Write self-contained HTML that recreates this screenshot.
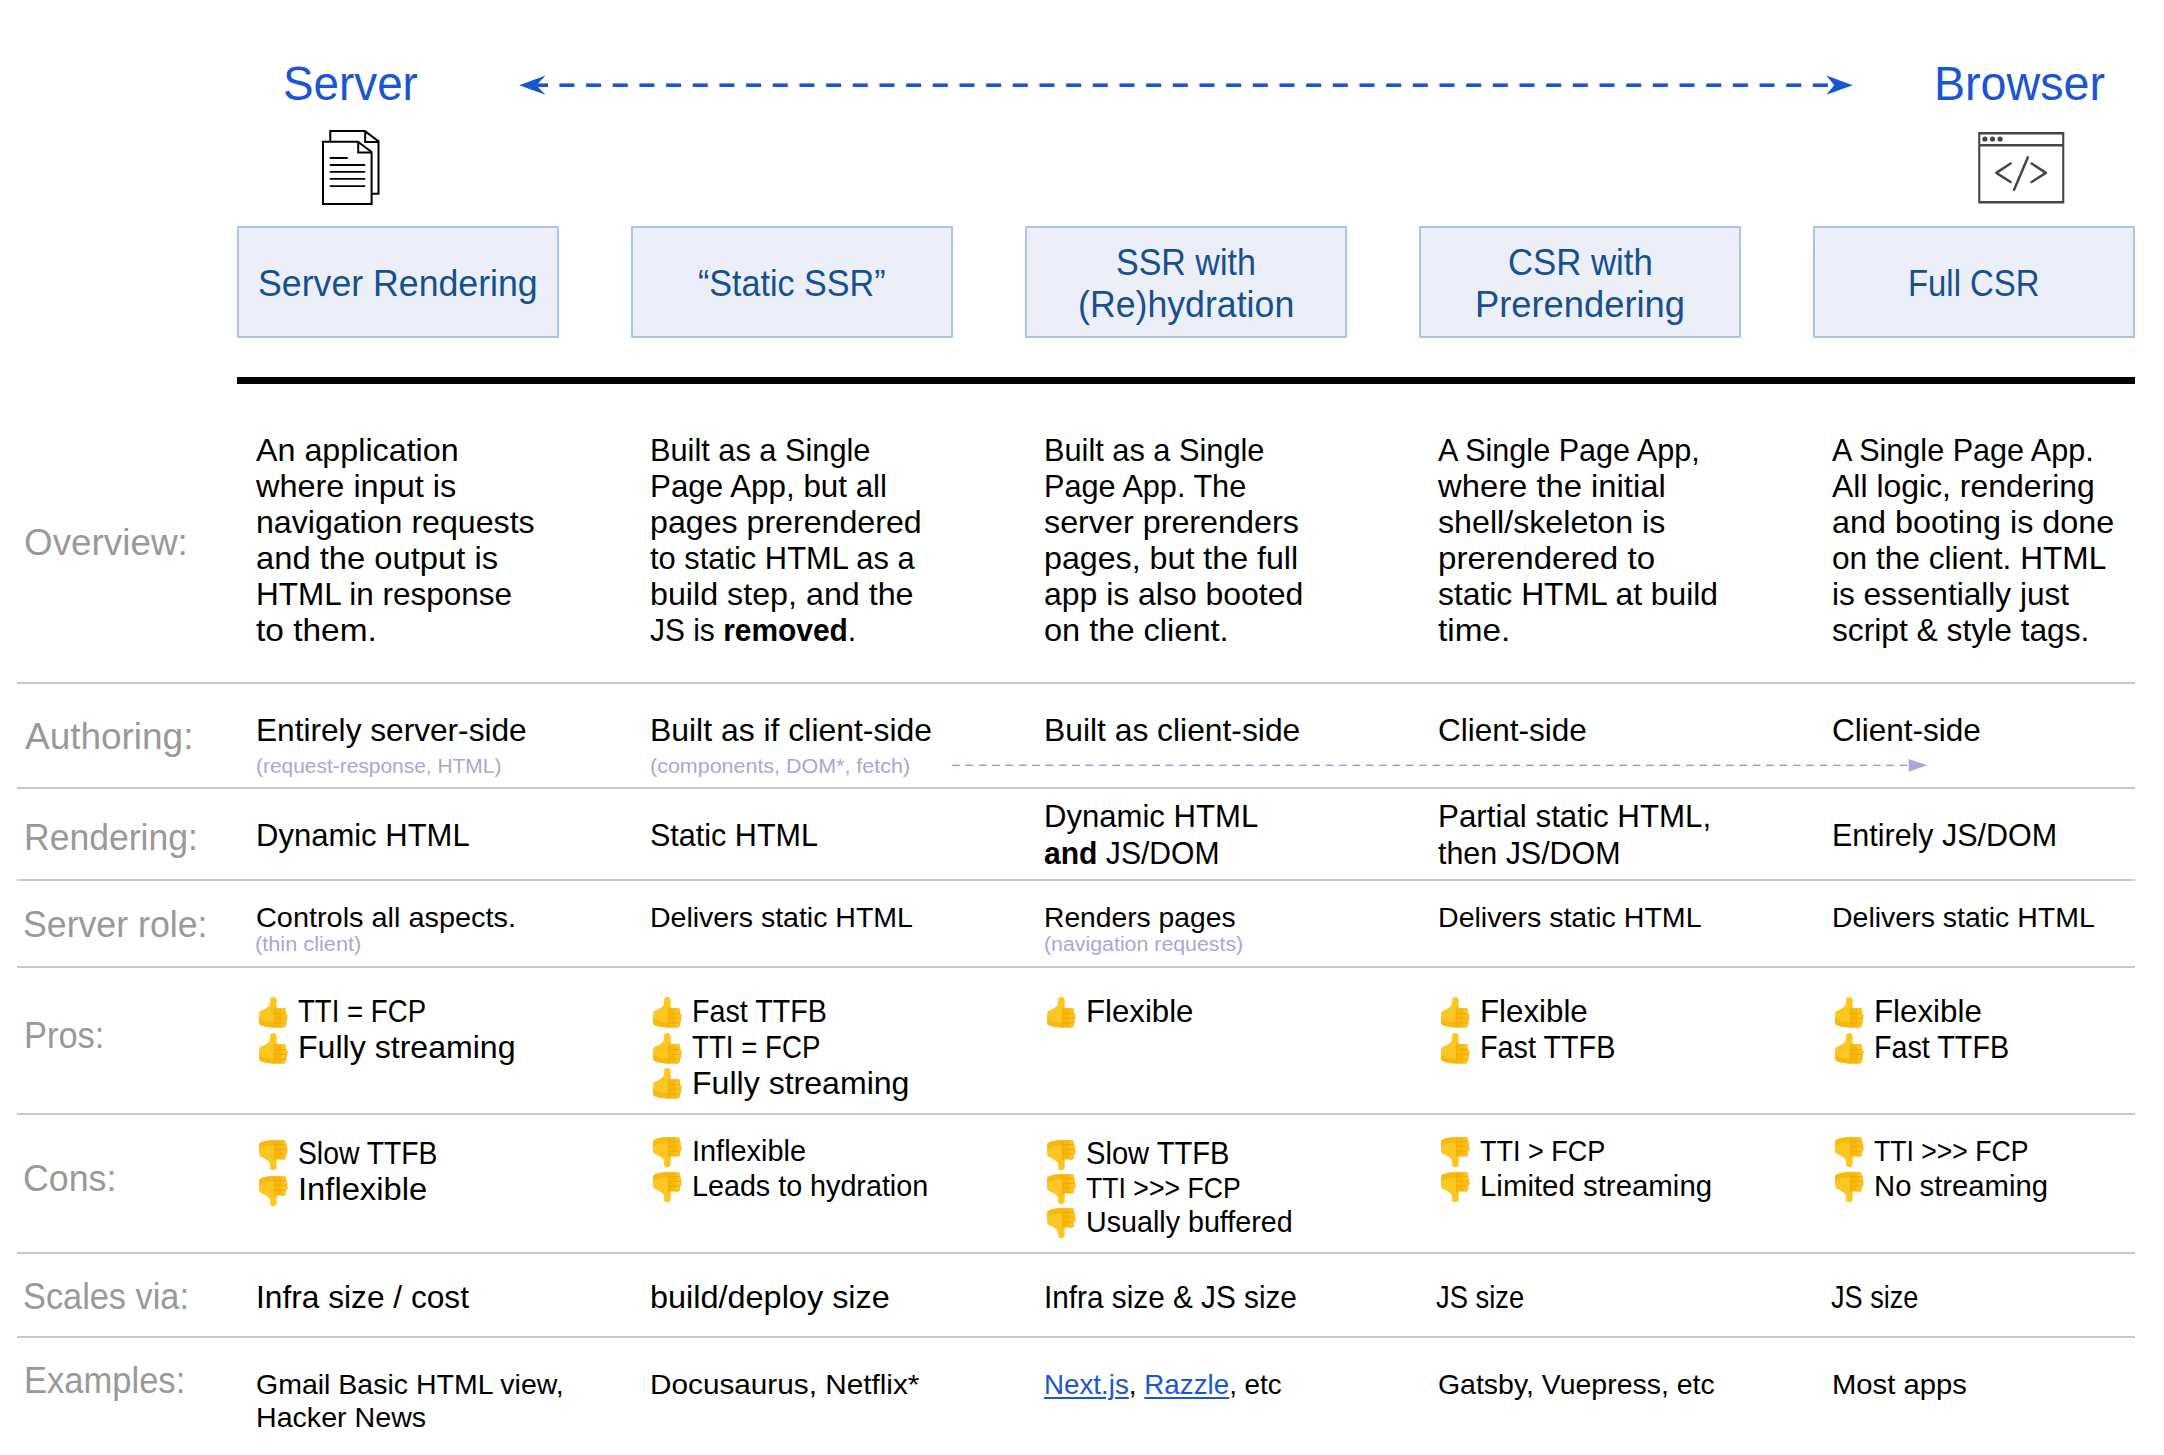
<!DOCTYPE html>
<html><head><meta charset="utf-8"><title>Rendering on the Web</title>
<style>
html,body{margin:0;padding:0;background:#fff;}
body{width:2164px;height:1455px;position:relative;overflow:hidden;font-family:"Liberation Sans",sans-serif;}
.t{position:absolute;white-space:pre;transform-origin:0 0;}
.t b{font-weight:700;}
.t a{color:#1a56d2;text-decoration:underline;text-decoration-thickness:2px;text-underline-offset:3px;}
.box{position:absolute;top:226px;width:322.5px;height:112px;box-sizing:border-box;background:#eceff8;border:2px solid #a9c6ea;}
.sep{position:absolute;left:17px;width:2118px;height:2px;background:#c9c9c9;}
.ov{position:absolute;left:0;top:0;}
.th{position:absolute;width:31px;height:33px;overflow:visible;}
</style></head><body>
<svg width="0" height="0" style="position:absolute">
 <defs>
  <clipPath id="hc"><path d="M12.2,3.5 C12.2,1.8 13.5,1.1 15,1.1 C17,1.1 18.7,2.2 18.7,4.5 L18.6,12.3 L26,12.2 C27.5,12.2 28.3,13.5 27.9,15 L27.5,17.5 C29,17.7 29.7,19 29.4,20.3 L29,22.3 C29.3,23 29.1,25.5 28.3,26.6 L27.7,27.3 C28.1,29.5 27.5,31.4 25.5,31.4 L14.3,31.4 C9,31.2 4,30 2.3,28.8 C1.4,28.2 1.1,27 1.1,25.5 L1.1,17.5 C1.1,16 1.8,15.2 3,14.7 C6,13.5 9.5,11.5 11.2,9.5 C12,8.4 12.2,6 12.2,3.5 Z"/></clipPath>
  <g id="up">
    <g clip-path="url(#hc)">
      <rect x="0" y="0" width="31" height="33" fill="#fdc723"/>
      <path d="M1,22 C6,26 12,26.5 17,26 L17,33 L0,33 Z" fill="#f9b90c"/>
      <rect x="16.4" y="11" width="15" height="22" fill="#f8b70b"/>
      <rect x="23.5" y="11" width="8" height="22" fill="#fcc323"/>
      <path d="M16.6,17.5 H30 M16.6,22.3 H30 M16.6,27.1 H30" stroke="#eea800" stroke-width="0.9" fill="none"/>
      <path d="M16.4,12 V31.4" stroke="#f0ac00" stroke-width="0.8"/>
    </g>
  </g>
  <g id="dn"><use href="#up" transform="matrix(1,0,0,-1,0,32.6)"/></g>
 </defs>
</svg>
<div class="box" style="left:236.5px"></div>
<div class="box" style="left:630.5px"></div>
<div class="box" style="left:1024.5px"></div>
<div class="box" style="left:1418.5px"></div>
<div class="box" style="left:1812.5px"></div>
<div style="position:absolute;left:237px;top:377px;width:1898px;height:7px;background:#000"></div>
<div class="sep" style="top:682px"></div>
<div class="sep" style="top:787px"></div>
<div class="sep" style="top:879px"></div>
<div class="sep" style="top:966px"></div>
<div class="sep" style="top:1113px"></div>
<div class="sep" style="top:1252px"></div>
<div class="sep" style="top:1336px"></div>
<svg class="ov" width="2164" height="1455" viewBox="0 0 2164 1455"><polygon points="519.2,85.2 545.6,75.4 536.3,85.2 545.6,94.8" fill="#1a56d2"/><rect x="536" y="83.4" width="12" height="3.6" fill="#1a56d2"/><rect x="559.40" y="83.4" width="15" height="3.6" fill="#1a56d2"/><rect x="586.07" y="83.4" width="15" height="3.6" fill="#1a56d2"/><rect x="612.74" y="83.4" width="15" height="3.6" fill="#1a56d2"/><rect x="639.41" y="83.4" width="15" height="3.6" fill="#1a56d2"/><rect x="666.08" y="83.4" width="15" height="3.6" fill="#1a56d2"/><rect x="692.75" y="83.4" width="15" height="3.6" fill="#1a56d2"/><rect x="719.42" y="83.4" width="15" height="3.6" fill="#1a56d2"/><rect x="746.09" y="83.4" width="15" height="3.6" fill="#1a56d2"/><rect x="772.76" y="83.4" width="15" height="3.6" fill="#1a56d2"/><rect x="799.43" y="83.4" width="15" height="3.6" fill="#1a56d2"/><rect x="826.10" y="83.4" width="15" height="3.6" fill="#1a56d2"/><rect x="852.77" y="83.4" width="15" height="3.6" fill="#1a56d2"/><rect x="879.44" y="83.4" width="15" height="3.6" fill="#1a56d2"/><rect x="906.11" y="83.4" width="15" height="3.6" fill="#1a56d2"/><rect x="932.78" y="83.4" width="15" height="3.6" fill="#1a56d2"/><rect x="959.45" y="83.4" width="15" height="3.6" fill="#1a56d2"/><rect x="986.12" y="83.4" width="15" height="3.6" fill="#1a56d2"/><rect x="1012.79" y="83.4" width="15" height="3.6" fill="#1a56d2"/><rect x="1039.46" y="83.4" width="15" height="3.6" fill="#1a56d2"/><rect x="1066.13" y="83.4" width="15" height="3.6" fill="#1a56d2"/><rect x="1092.80" y="83.4" width="15" height="3.6" fill="#1a56d2"/><rect x="1119.47" y="83.4" width="15" height="3.6" fill="#1a56d2"/><rect x="1146.14" y="83.4" width="15" height="3.6" fill="#1a56d2"/><rect x="1172.81" y="83.4" width="15" height="3.6" fill="#1a56d2"/><rect x="1199.48" y="83.4" width="15" height="3.6" fill="#1a56d2"/><rect x="1226.15" y="83.4" width="15" height="3.6" fill="#1a56d2"/><rect x="1252.82" y="83.4" width="15" height="3.6" fill="#1a56d2"/><rect x="1279.49" y="83.4" width="15" height="3.6" fill="#1a56d2"/><rect x="1306.16" y="83.4" width="15" height="3.6" fill="#1a56d2"/><rect x="1332.83" y="83.4" width="15" height="3.6" fill="#1a56d2"/><rect x="1359.50" y="83.4" width="15" height="3.6" fill="#1a56d2"/><rect x="1386.17" y="83.4" width="15" height="3.6" fill="#1a56d2"/><rect x="1412.84" y="83.4" width="15" height="3.6" fill="#1a56d2"/><rect x="1439.51" y="83.4" width="15" height="3.6" fill="#1a56d2"/><rect x="1466.18" y="83.4" width="15" height="3.6" fill="#1a56d2"/><rect x="1492.85" y="83.4" width="15" height="3.6" fill="#1a56d2"/><rect x="1519.52" y="83.4" width="15" height="3.6" fill="#1a56d2"/><rect x="1546.19" y="83.4" width="15" height="3.6" fill="#1a56d2"/><rect x="1572.86" y="83.4" width="15" height="3.6" fill="#1a56d2"/><rect x="1599.53" y="83.4" width="15" height="3.6" fill="#1a56d2"/><rect x="1626.20" y="83.4" width="15" height="3.6" fill="#1a56d2"/><rect x="1652.87" y="83.4" width="15" height="3.6" fill="#1a56d2"/><rect x="1679.54" y="83.4" width="15" height="3.6" fill="#1a56d2"/><rect x="1706.21" y="83.4" width="15" height="3.6" fill="#1a56d2"/><rect x="1732.88" y="83.4" width="15" height="3.6" fill="#1a56d2"/><rect x="1759.55" y="83.4" width="15" height="3.6" fill="#1a56d2"/><rect x="1786.22" y="83.4" width="15" height="3.6" fill="#1a56d2"/><rect x="1812.89" y="83.4" width="15" height="3.6" fill="#1a56d2"/><polygon points="1852.7,85.2 1826.4,75.4 1834.2,85.2 1826.4,94.8" fill="#1a56d2"/><rect x="952.20" y="764.6" width="7.6" height="1.5" fill="#a596d6"/><rect x="965.55" y="764.6" width="7.6" height="1.5" fill="#a596d6"/><rect x="978.89" y="764.6" width="7.6" height="1.5" fill="#a596d6"/><rect x="992.24" y="764.6" width="7.6" height="1.5" fill="#a596d6"/><rect x="1005.58" y="764.6" width="7.6" height="1.5" fill="#a596d6"/><rect x="1018.93" y="764.6" width="7.6" height="1.5" fill="#a596d6"/><rect x="1032.27" y="764.6" width="7.6" height="1.5" fill="#a596d6"/><rect x="1045.62" y="764.6" width="7.6" height="1.5" fill="#a596d6"/><rect x="1058.96" y="764.6" width="7.6" height="1.5" fill="#a596d6"/><rect x="1072.31" y="764.6" width="7.6" height="1.5" fill="#a596d6"/><rect x="1085.65" y="764.6" width="7.6" height="1.5" fill="#a596d6"/><rect x="1099.00" y="764.6" width="7.6" height="1.5" fill="#a596d6"/><rect x="1112.34" y="764.6" width="7.6" height="1.5" fill="#a596d6"/><rect x="1125.69" y="764.6" width="7.6" height="1.5" fill="#a596d6"/><rect x="1139.03" y="764.6" width="7.6" height="1.5" fill="#a596d6"/><rect x="1152.38" y="764.6" width="7.6" height="1.5" fill="#a596d6"/><rect x="1165.72" y="764.6" width="7.6" height="1.5" fill="#a596d6"/><rect x="1179.07" y="764.6" width="7.6" height="1.5" fill="#a596d6"/><rect x="1192.41" y="764.6" width="7.6" height="1.5" fill="#a596d6"/><rect x="1205.76" y="764.6" width="7.6" height="1.5" fill="#a596d6"/><rect x="1219.10" y="764.6" width="7.6" height="1.5" fill="#a596d6"/><rect x="1232.45" y="764.6" width="7.6" height="1.5" fill="#a596d6"/><rect x="1245.79" y="764.6" width="7.6" height="1.5" fill="#a596d6"/><rect x="1259.14" y="764.6" width="7.6" height="1.5" fill="#a596d6"/><rect x="1272.48" y="764.6" width="7.6" height="1.5" fill="#a596d6"/><rect x="1285.83" y="764.6" width="7.6" height="1.5" fill="#a596d6"/><rect x="1299.17" y="764.6" width="7.6" height="1.5" fill="#a596d6"/><rect x="1312.52" y="764.6" width="7.6" height="1.5" fill="#a596d6"/><rect x="1325.86" y="764.6" width="7.6" height="1.5" fill="#a596d6"/><rect x="1339.21" y="764.6" width="7.6" height="1.5" fill="#a596d6"/><rect x="1352.55" y="764.6" width="7.6" height="1.5" fill="#a596d6"/><rect x="1365.90" y="764.6" width="7.6" height="1.5" fill="#a596d6"/><rect x="1379.24" y="764.6" width="7.6" height="1.5" fill="#a596d6"/><rect x="1392.59" y="764.6" width="7.6" height="1.5" fill="#a596d6"/><rect x="1405.93" y="764.6" width="7.6" height="1.5" fill="#a596d6"/><rect x="1419.28" y="764.6" width="7.6" height="1.5" fill="#a596d6"/><rect x="1432.62" y="764.6" width="7.6" height="1.5" fill="#a596d6"/><rect x="1445.97" y="764.6" width="7.6" height="1.5" fill="#a596d6"/><rect x="1459.31" y="764.6" width="7.6" height="1.5" fill="#a596d6"/><rect x="1472.66" y="764.6" width="7.6" height="1.5" fill="#a596d6"/><rect x="1486.00" y="764.6" width="7.6" height="1.5" fill="#a596d6"/><rect x="1499.35" y="764.6" width="7.6" height="1.5" fill="#a596d6"/><rect x="1512.69" y="764.6" width="7.6" height="1.5" fill="#a596d6"/><rect x="1526.04" y="764.6" width="7.6" height="1.5" fill="#a596d6"/><rect x="1539.38" y="764.6" width="7.6" height="1.5" fill="#a596d6"/><rect x="1552.73" y="764.6" width="7.6" height="1.5" fill="#a596d6"/><rect x="1566.07" y="764.6" width="7.6" height="1.5" fill="#a596d6"/><rect x="1579.42" y="764.6" width="7.6" height="1.5" fill="#a596d6"/><rect x="1592.76" y="764.6" width="7.6" height="1.5" fill="#a596d6"/><rect x="1606.11" y="764.6" width="7.6" height="1.5" fill="#a596d6"/><rect x="1619.45" y="764.6" width="7.6" height="1.5" fill="#a596d6"/><rect x="1632.80" y="764.6" width="7.6" height="1.5" fill="#a596d6"/><rect x="1646.14" y="764.6" width="7.6" height="1.5" fill="#a596d6"/><rect x="1659.49" y="764.6" width="7.6" height="1.5" fill="#a596d6"/><rect x="1672.83" y="764.6" width="7.6" height="1.5" fill="#a596d6"/><rect x="1686.18" y="764.6" width="7.6" height="1.5" fill="#a596d6"/><rect x="1699.52" y="764.6" width="7.6" height="1.5" fill="#a596d6"/><rect x="1712.87" y="764.6" width="7.6" height="1.5" fill="#a596d6"/><rect x="1726.21" y="764.6" width="7.6" height="1.5" fill="#a596d6"/><rect x="1739.56" y="764.6" width="7.6" height="1.5" fill="#a596d6"/><rect x="1752.90" y="764.6" width="7.6" height="1.5" fill="#a596d6"/><rect x="1766.25" y="764.6" width="7.6" height="1.5" fill="#a596d6"/><rect x="1779.59" y="764.6" width="7.6" height="1.5" fill="#a596d6"/><rect x="1792.94" y="764.6" width="7.6" height="1.5" fill="#a596d6"/><rect x="1806.28" y="764.6" width="7.6" height="1.5" fill="#a596d6"/><rect x="1819.63" y="764.6" width="7.6" height="1.5" fill="#a596d6"/><rect x="1832.97" y="764.6" width="7.6" height="1.5" fill="#a596d6"/><rect x="1846.32" y="764.6" width="7.6" height="1.5" fill="#a596d6"/><rect x="1859.66" y="764.6" width="7.6" height="1.5" fill="#a596d6"/><rect x="1873.01" y="764.6" width="7.6" height="1.5" fill="#a596d6"/><rect x="1886.35" y="764.6" width="7.6" height="1.5" fill="#a596d6"/><rect x="1899.70" y="764.6" width="7.6" height="1.5" fill="#a596d6"/><polygon points="1908.6,758.9 1927.3,765.3 1908.6,771.8" fill="#b0a6d6"/><g fill="#fff" stroke="#000" stroke-width="2" stroke-linejoin="miter"><path d="M330.3,141.7 V131.1 H364.9 L378.5,141.3 V193.7 H371.6"/><path d="M365.2,131.1 V142 H378.5" fill="none"/><path d="M323,141.7 H357.9 L371.6,152 V204 H323 Z"/><path d="M358.2,141.7 V152.6 H371.6" fill="none"/></g><g stroke="#000" stroke-width="1.8" stroke-linecap="round"><line x1="330.5" y1="158" x2="347" y2="158"/><line x1="330.5" y1="165" x2="364.5" y2="165"/><line x1="330.5" y1="171.8" x2="364.5" y2="171.8"/><line x1="330.5" y1="178.9" x2="364.5" y2="178.9"/><line x1="330.5" y1="186.1" x2="364.5" y2="186.1"/></g><path fill="#454545" fill-rule="evenodd" d="M1978.2,132 H2064.3 V203.6 H1978.2 Z M1980.3,134.6 V144 H2062.2 V134.6 Z M1980.3,146.6 V201 H2062.2 V146.6 Z"/><g fill="none" stroke="#454545" stroke-width="2.5" stroke-linecap="round" stroke-linejoin="round"><polyline points="2010.6,163.5 1996.3,172.9 2010.6,182.0"/><polyline points="2031.6,163.5 2045.9,172.9 2031.6,182.0"/><line x1="2027.8" y1="157.4" x2="2014.1" y2="189.8"/></g><g fill="#454545"><circle cx="1984.9" cy="139" r="2.6"/><circle cx="1992.5" cy="139" r="2.6"/><circle cx="2000.1" cy="139" r="2.6"/></g></svg>
<div class="t" style="left:282.69px;top:53.46px;font-size:48px;line-height:62px;color:#1a56d2;transform:scaleX(0.9540);">Server</div><div class="t" style="left:1934.12px;top:53.46px;font-size:48px;line-height:62px;color:#1a56d2;transform:scaleX(0.9709);">Browser</div><div class="t" style="left:257.82px;top:260.22px;font-size:36px;line-height:47px;color:#15508f;transform:scaleX(0.9914);">Server Rendering</div><div class="t" style="left:698.15px;top:260.22px;font-size:36px;line-height:47px;color:#15508f;transform:scaleX(0.9469);">“Static SSR”</div><div class="t" style="left:1115.71px;top:239.02px;font-size:36px;line-height:47px;color:#15508f;transform:scaleX(0.9444);">SSR with</div><div class="t" style="left:1077.92px;top:281.22px;font-size:36px;line-height:47px;color:#15508f;transform:scaleX(0.9916);">(Re)hydration</div><div class="t" style="left:1507.57px;top:239.02px;font-size:36px;line-height:47px;color:#15508f;transform:scaleX(0.9651);">CSR with</div><div class="t" style="left:1474.67px;top:281.22px;font-size:36px;line-height:47px;color:#15508f;transform:scaleX(1.0089);">Prerendering</div><div class="t" style="left:1907.86px;top:260.22px;font-size:36px;line-height:47px;color:#15508f;transform:scaleX(0.9129);">Full CSR</div><div class="t" style="left:24.38px;top:518.92px;font-size:36px;line-height:47px;color:#999999;transform:scaleX(1.0231);">Overview:</div><div class="t" style="left:24.90px;top:712.92px;font-size:36px;line-height:47px;color:#999999;transform:scaleX(1.0261);">Authoring:</div><div class="t" style="left:23.64px;top:814.12px;font-size:36px;line-height:47px;color:#999999;transform:scaleX(0.9871);">Rendering:</div><div class="t" style="left:23.22px;top:900.82px;font-size:36px;line-height:47px;color:#999999;transform:scaleX(0.9912);">Server role:</div><div class="t" style="left:23.73px;top:1012.02px;font-size:36px;line-height:47px;color:#999999;transform:scaleX(0.9564);">Pros:</div><div class="t" style="left:23.42px;top:1154.82px;font-size:36px;line-height:47px;color:#999999;transform:scaleX(0.9921);">Cons:</div><div class="t" style="left:23.29px;top:1272.82px;font-size:36px;line-height:47px;color:#999999;transform:scaleX(0.9533);">Scales via:</div><div class="t" style="left:23.72px;top:1356.82px;font-size:36px;line-height:47px;color:#999999;transform:scaleX(0.9593);">Examples:</div><div class="t" style="left:256.00px;top:428.71px;font-size:32px;line-height:42px;color:#000;transform:scaleX(1.0080);">An application</div><div class="t" style="left:256.00px;top:464.77px;font-size:32px;line-height:42px;color:#000;transform:scaleX(1.0142);">where input is</div><div class="t" style="left:256.00px;top:500.83px;font-size:32px;line-height:42px;color:#000;transform:scaleX(1.0040);">navigation requests</div><div class="t" style="left:256.00px;top:536.89px;font-size:32px;line-height:42px;color:#000;transform:scaleX(1.0229);">and the output is</div><div class="t" style="left:256.00px;top:572.95px;font-size:32px;line-height:42px;color:#000;transform:scaleX(0.9834);">HTML in response</div><div class="t" style="left:256.00px;top:609.01px;font-size:32px;line-height:42px;color:#000;transform:scaleX(1.0451);">to them.</div><div class="t" style="left:650.00px;top:428.71px;font-size:32px;line-height:42px;color:#000;transform:scaleX(0.9607);">Built as a Single</div><div class="t" style="left:650.00px;top:464.77px;font-size:32px;line-height:42px;color:#000;transform:scaleX(0.9796);">Page App, but all</div><div class="t" style="left:650.00px;top:500.83px;font-size:32px;line-height:42px;color:#000;transform:scaleX(1.0045);">pages prerendered</div><div class="t" style="left:650.00px;top:536.89px;font-size:32px;line-height:42px;color:#000;transform:scaleX(0.9640);">to static HTML as a</div><div class="t" style="left:650.00px;top:572.95px;font-size:32px;line-height:42px;color:#000;transform:scaleX(1.0077);">build step, and the</div><div class="t" style="left:650.00px;top:609.01px;font-size:32px;line-height:42px;color:#000;transform:scaleX(0.9349);">JS is <b>removed</b>.</div><div class="t" style="left:1044.00px;top:428.71px;font-size:32px;line-height:42px;color:#000;transform:scaleX(0.9607);">Built as a Single</div><div class="t" style="left:1044.00px;top:464.77px;font-size:32px;line-height:42px;color:#000;transform:scaleX(0.9576);">Page App. The</div><div class="t" style="left:1044.00px;top:500.83px;font-size:32px;line-height:42px;color:#000;transform:scaleX(1.0091);">server prerenders</div><div class="t" style="left:1044.00px;top:536.89px;font-size:32px;line-height:42px;color:#000;transform:scaleX(1.0060);">pages, but the full</div><div class="t" style="left:1044.00px;top:572.95px;font-size:32px;line-height:42px;color:#000;transform:scaleX(0.9981);">app is also booted</div><div class="t" style="left:1044.00px;top:609.01px;font-size:32px;line-height:42px;color:#000;transform:scaleX(1.0173);">on the client.</div><div class="t" style="left:1438.00px;top:428.71px;font-size:32px;line-height:42px;color:#000;transform:scaleX(0.9550);">A Single Page App,</div><div class="t" style="left:1438.00px;top:464.77px;font-size:32px;line-height:42px;color:#000;transform:scaleX(1.0244);">where the initial</div><div class="t" style="left:1438.00px;top:500.83px;font-size:32px;line-height:42px;color:#000;transform:scaleX(1.0062);">shell/skeleton is</div><div class="t" style="left:1438.00px;top:536.89px;font-size:32px;line-height:42px;color:#000;transform:scaleX(1.0340);">prerendered to</div><div class="t" style="left:1438.00px;top:572.95px;font-size:32px;line-height:42px;color:#000;transform:scaleX(0.9946);">static HTML at build</div><div class="t" style="left:1438.00px;top:609.01px;font-size:32px;line-height:42px;color:#000;transform:scaleX(1.0418);">time.</div><div class="t" style="left:1832.00px;top:428.71px;font-size:32px;line-height:42px;color:#000;transform:scaleX(0.9550);">A Single Page App.</div><div class="t" style="left:1832.00px;top:464.77px;font-size:32px;line-height:42px;color:#000;transform:scaleX(0.9985);">All logic, rendering</div><div class="t" style="left:1832.00px;top:500.83px;font-size:32px;line-height:42px;color:#000;transform:scaleX(1.0104);">and booting is done</div><div class="t" style="left:1832.00px;top:536.89px;font-size:32px;line-height:42px;color:#000;transform:scaleX(0.9884);">on the client. HTML</div><div class="t" style="left:1832.00px;top:572.95px;font-size:32px;line-height:42px;color:#000;transform:scaleX(0.9875);">is essentially just</div><div class="t" style="left:1832.00px;top:609.01px;font-size:32px;line-height:42px;color:#000;transform:scaleX(0.9914);">script &amp; style tags.</div><div class="t" style="left:256.00px;top:708.71px;font-size:32px;line-height:42px;color:#000;transform:scaleX(0.9883);">Entirely server-side</div><div class="t" style="left:256.00px;top:751.99px;font-size:20.5px;line-height:27px;color:#aaa5d9;transform:scaleX(1.0209);">(request-response, HTML)</div><div class="t" style="left:650.00px;top:708.71px;font-size:32px;line-height:42px;color:#000;transform:scaleX(0.9972);">Built as if client-side</div><div class="t" style="left:650.00px;top:751.99px;font-size:20.5px;line-height:27px;color:#aaa5d9;transform:scaleX(1.0470);">(components, DOM*, fetch)</div><div class="t" style="left:1044.00px;top:708.71px;font-size:32px;line-height:42px;color:#000;transform:scaleX(0.9938);">Built as client-side</div><div class="t" style="left:1438.00px;top:708.71px;font-size:32px;line-height:42px;color:#000;transform:scaleX(0.9840);">Client-side</div><div class="t" style="left:1832.00px;top:708.71px;font-size:32px;line-height:42px;color:#000;transform:scaleX(0.9840);">Client-side</div><div class="t" style="left:256.00px;top:813.71px;font-size:32px;line-height:42px;color:#000;transform:scaleX(0.9691);">Dynamic HTML</div><div class="t" style="left:650.00px;top:813.71px;font-size:32px;line-height:42px;color:#000;transform:scaleX(0.9543);">Static HTML</div><div class="t" style="left:1044.00px;top:794.71px;font-size:32px;line-height:42px;color:#000;transform:scaleX(0.9714);">Dynamic HTML</div><div class="t" style="left:1044.00px;top:831.61px;font-size:32px;line-height:42px;color:#000;transform:scaleX(0.9402);"><b>and</b> JS/DOM</div><div class="t" style="left:1438.00px;top:794.71px;font-size:32px;line-height:42px;color:#000;transform:scaleX(0.9787);">Partial static HTML,</div><div class="t" style="left:1438.00px;top:831.61px;font-size:32px;line-height:42px;color:#000;transform:scaleX(0.9505);">then JS/DOM</div><div class="t" style="left:1832.00px;top:813.71px;font-size:32px;line-height:42px;color:#000;transform:scaleX(0.9521);">Entirely JS/DOM</div><div class="t" style="left:256.00px;top:899.59px;font-size:28px;line-height:36px;color:#000;transform:scaleX(1.0312);">Controls all aspects.</div><div class="t" style="left:255.34px;top:930.39px;font-size:20.5px;line-height:27px;color:#aaa5d9;transform:scaleX(1.0602);">(thin client)</div><div class="t" style="left:650.00px;top:899.59px;font-size:28px;line-height:36px;color:#000;transform:scaleX(1.0182);">Delivers static HTML</div><div class="t" style="left:1044.00px;top:899.59px;font-size:28px;line-height:36px;color:#000;transform:scaleX(1.0085);">Renders pages</div><div class="t" style="left:1044.00px;top:930.39px;font-size:20.5px;line-height:27px;color:#aaa5d9;transform:scaleX(1.0405);">(navigation requests)</div><div class="t" style="left:1438.00px;top:899.59px;font-size:28px;line-height:36px;color:#000;transform:scaleX(1.0205);">Delivers static HTML</div><div class="t" style="left:1832.00px;top:899.59px;font-size:28px;line-height:36px;color:#000;transform:scaleX(1.0174);">Delivers static HTML</div><div class="t" style="left:298.40px;top:989.91px;font-size:32px;line-height:42px;color:#000;transform:scaleX(0.8626);">TTI = FCP</div><div class="t" style="left:298.40px;top:1025.71px;font-size:32px;line-height:42px;color:#000;transform:scaleX(1.0028);">Fully streaming</div><div class="t" style="left:692.40px;top:989.91px;font-size:32px;line-height:42px;color:#000;transform:scaleX(0.8966);">Fast TTFB</div><div class="t" style="left:692.40px;top:1025.71px;font-size:32px;line-height:42px;color:#000;transform:scaleX(0.8653);">TTI = FCP</div><div class="t" style="left:692.40px;top:1061.51px;font-size:32px;line-height:42px;color:#000;transform:scaleX(1.0023);">Fully streaming</div><div class="t" style="left:1086.40px;top:989.91px;font-size:32px;line-height:42px;color:#000;transform:scaleX(0.9743);">Flexible</div><div class="t" style="left:1480.40px;top:989.91px;font-size:32px;line-height:42px;color:#000;transform:scaleX(0.9771);">Flexible</div><div class="t" style="left:1480.40px;top:1025.71px;font-size:32px;line-height:42px;color:#000;transform:scaleX(0.8993);">Fast TTFB</div><div class="t" style="left:1874.40px;top:989.91px;font-size:32px;line-height:42px;color:#000;transform:scaleX(0.9780);">Flexible</div><div class="t" style="left:1874.40px;top:1025.71px;font-size:32px;line-height:42px;color:#000;transform:scaleX(0.8973);">Fast TTFB</div><div class="t" style="left:298.40px;top:1133.95px;font-size:31px;line-height:40px;color:#000;transform:scaleX(0.9126);">Slow TTFB</div><div class="t" style="left:298.40px;top:1169.95px;font-size:31px;line-height:40px;color:#000;transform:scaleX(1.0554);">Inflexible</div><div class="t" style="left:692.40px;top:1133.48px;font-size:28.6px;line-height:37px;color:#000;transform:scaleX(1.0107);">Inflexible</div><div class="t" style="left:692.40px;top:1168.38px;font-size:28.6px;line-height:37px;color:#000;transform:scaleX(1.0038);">Leads to hydration</div><div class="t" style="left:1086.40px;top:1133.85px;font-size:31px;line-height:40px;color:#000;transform:scaleX(0.9391);">Slow TTFB</div><div class="t" style="left:1086.40px;top:1170.48px;font-size:28.6px;line-height:37px;color:#000;transform:scaleX(0.9315);">TTI &gt;&gt;&gt; FCP</div><div class="t" style="left:1086.40px;top:1204.38px;font-size:28.6px;line-height:37px;color:#000;transform:scaleX(1.0024);">Usually buffered</div><div class="t" style="left:1480.40px;top:1133.48px;font-size:28.6px;line-height:37px;color:#000;transform:scaleX(0.9443);">TTI &gt; FCP</div><div class="t" style="left:1480.40px;top:1168.38px;font-size:28.6px;line-height:37px;color:#000;transform:scaleX(1.0286);">Limited streaming</div><div class="t" style="left:1874.40px;top:1133.48px;font-size:28.6px;line-height:37px;color:#000;transform:scaleX(0.9303);">TTI &gt;&gt;&gt; FCP</div><div class="t" style="left:1874.40px;top:1168.38px;font-size:28.6px;line-height:37px;color:#000;transform:scaleX(1.0231);">No streaming</div><div class="t" style="left:256.00px;top:1276.31px;font-size:32px;line-height:42px;color:#000;transform:scaleX(0.9898);">Infra size / cost</div><div class="t" style="left:650.00px;top:1276.31px;font-size:32px;line-height:42px;color:#000;transform:scaleX(1.0136);">build/deploy size</div><div class="t" style="left:1044.00px;top:1276.31px;font-size:32px;line-height:42px;color:#000;transform:scaleX(0.9295);">Infra size &amp; JS size</div><div class="t" style="left:1436.10px;top:1276.31px;font-size:32px;line-height:42px;color:#000;transform:scaleX(0.8559);">JS size</div><div class="t" style="left:1830.80px;top:1276.31px;font-size:32px;line-height:42px;color:#000;transform:scaleX(0.8471);">JS size</div><div class="t" style="left:256.00px;top:1366.59px;font-size:28px;line-height:36px;color:#000;transform:scaleX(1.0177);">Gmail Basic HTML view,</div><div class="t" style="left:256.00px;top:1399.89px;font-size:28px;line-height:36px;color:#000;transform:scaleX(1.0217);">Hacker News</div><div class="t" style="left:650.00px;top:1366.59px;font-size:28px;line-height:36px;color:#000;transform:scaleX(1.0621);">Docusaurus, Netflix*</div><div class="t" style="left:1044.00px;top:1366.59px;font-size:28px;line-height:36px;color:#000;transform:scaleX(0.9916);"><a>Next.js</a>, <a>Razzle</a>, etc</div><div class="t" style="left:1438.00px;top:1366.59px;font-size:28px;line-height:36px;color:#000;transform:scaleX(1.0158);">Gatsby, Vuepress, etc</div><div class="t" style="left:1832.00px;top:1366.59px;font-size:28px;line-height:36px;color:#000;transform:scaleX(1.0442);">Most apps</div><svg class="th" style="left:257.5px;top:995.8px" viewBox="0 0 31 33"><use href="#up"/></svg><svg class="th" style="left:257.5px;top:1031.6px" viewBox="0 0 31 33"><use href="#up"/></svg><svg class="th" style="left:651.5px;top:995.8px" viewBox="0 0 31 33"><use href="#up"/></svg><svg class="th" style="left:651.5px;top:1031.6px" viewBox="0 0 31 33"><use href="#up"/></svg><svg class="th" style="left:651.5px;top:1067.4px" viewBox="0 0 31 33"><use href="#up"/></svg><svg class="th" style="left:1045.5px;top:995.8px" viewBox="0 0 31 33"><use href="#up"/></svg><svg class="th" style="left:1439.5px;top:995.8px" viewBox="0 0 31 33"><use href="#up"/></svg><svg class="th" style="left:1439.5px;top:1031.6px" viewBox="0 0 31 33"><use href="#up"/></svg><svg class="th" style="left:1833.5px;top:995.8px" viewBox="0 0 31 33"><use href="#up"/></svg><svg class="th" style="left:1833.5px;top:1031.6px" viewBox="0 0 31 33"><use href="#up"/></svg><svg class="th" style="left:257.5px;top:1138.8px" viewBox="0 0 31 33"><use href="#dn"/></svg><svg class="th" style="left:257.5px;top:1174.8px" viewBox="0 0 31 33"><use href="#dn"/></svg><svg class="th" style="left:651.5px;top:1136.0px" viewBox="0 0 31 33"><use href="#dn"/></svg><svg class="th" style="left:651.5px;top:1170.9px" viewBox="0 0 31 33"><use href="#dn"/></svg><svg class="th" style="left:1045.5px;top:1138.7px" viewBox="0 0 31 33"><use href="#dn"/></svg><svg class="th" style="left:1045.5px;top:1173.0px" viewBox="0 0 31 33"><use href="#dn"/></svg><svg class="th" style="left:1045.5px;top:1206.9px" viewBox="0 0 31 33"><use href="#dn"/></svg><svg class="th" style="left:1439.5px;top:1136.0px" viewBox="0 0 31 33"><use href="#dn"/></svg><svg class="th" style="left:1439.5px;top:1170.9px" viewBox="0 0 31 33"><use href="#dn"/></svg><svg class="th" style="left:1833.5px;top:1136.0px" viewBox="0 0 31 33"><use href="#dn"/></svg><svg class="th" style="left:1833.5px;top:1170.9px" viewBox="0 0 31 33"><use href="#dn"/></svg>
</body></html>
